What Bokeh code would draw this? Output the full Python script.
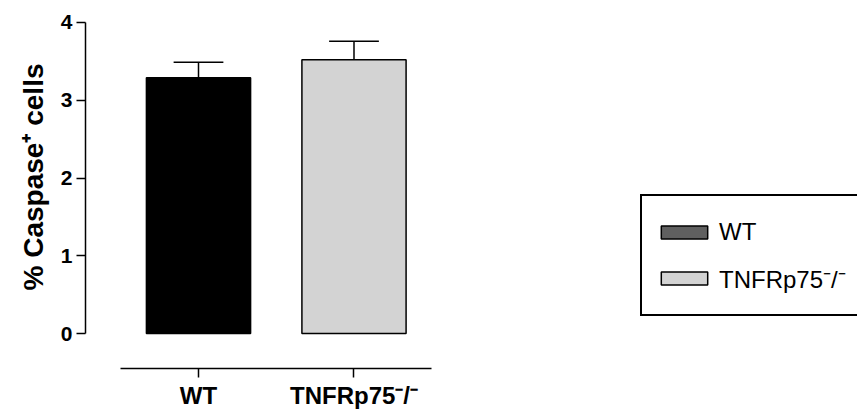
from bokeh.plotting import figure
from bokeh.models import Range1d, Legend, LegendItem, FixedTicker, Title
from bokeh.embed import file_html
from bokeh.resources import INLINE

# ---- data ----
groups = ["WT", "TNFRp75⁻/⁻"]
means = [3.29, 3.52]
sems = [0.20, 0.24]
bar_colors = ["#000000", "#d3d3d3"]
legend_colors = ["#606060", "#d3d3d3"]
y_ticks = [0, 1, 2, 3, 4]
y_title = "% Caspase⁺ cells"

xs = [1, 2]
tops = [m + s for m, s in zip(means, sems)]
cap = 0.16

p = figure(width=857, height=412, output_backend="svg", toolbar_location=None,
           x_range=Range1d(0.2733, 5.238), y_range=Range1d(-0.45, 4.09),
           min_border_left=85, min_border_top=15, min_border_bottom=44,
           min_border_right=0)
p.outline_line_color = None
p.xgrid.visible = False
p.ygrid.visible = False
p.background_fill_color = "white"
p.border_fill_color = "white"

p.vbar(x=xs, top=means, bottom=0, width=0.67, fill_color=bar_colors,
       line_color="black", line_width=1.5)
p.segment(x0=xs, y0=means, x1=xs, y1=tops, line_color="black", line_width=1.5)
p.segment(x0=[x - cap for x in xs], y0=tops, x1=[x + cap for x in xs], y1=tops,
          line_color="black", line_width=1.5)

# legend swatches (hidden renderers, used only for the legend)
leg_items = []
for g, c in zip(groups, legend_colors):
    r = p.vbar(x=xs, top=means, width=0.5, fill_color=c, line_color="black", line_width=1.5)
    r.visible = False
    leg_items.append(LegendItem(label=g, renderers=[r]))

legend = Legend(items=leg_items, location=(555, 52))
legend.border_line_color = "black"
legend.border_line_alpha = 1
legend.border_line_width = 2
legend.background_fill_color = "white"
legend.background_fill_alpha = 1
legend.inactive_fill_alpha = 0
legend.padding = 13
legend.spacing = 0
legend.margin = 0
legend.glyph_width = 58
legend.glyph_height = 16
legend.label_height = 46
legend.label_standoff = 6
legend.label_text_font = "Liberation Sans"
legend.label_text_font_size = "24px"
legend.label_text_color = "black"
p.add_layout(legend, "center")

# y axis
ya = p.yaxis[0]
ya.bounds = (0, 4)
ya.ticker = FixedTicker(ticks=y_ticks)
ya.major_tick_out = 9
ya.major_tick_in = 0
ya.minor_tick_line_color = None
ya.axis_line_width = 1.5
ya.major_tick_line_width = 1.5
ya.axis_line_color = "black"
ya.major_tick_line_color = "black"
ya.major_label_text_font = "Liberation Sans"
ya.major_label_text_font_style = "bold"
ya.major_label_text_font_size = "21px"
ya.major_label_text_color = "black"
ya.major_label_standoff = 4

# y-axis title (centred on the 0-4 axis span, not the whole frame)
t = Title(text=y_title, align="right", offset=48,
          text_font="Liberation Sans", text_font_style="bold",
          text_font_size="28px", text_color="black", standoff=17)
p.add_layout(t, "left")

# x axis
xa = p.xaxis[0]
xa.bounds = (0.5, 2.5)
xa.ticker = FixedTicker(ticks=xs)
xa.major_label_overrides = {x: g for x, g in zip(xs, groups)}
xa.major_tick_out = 9
xa.major_tick_in = 0
xa.minor_tick_line_color = None
xa.axis_line_width = 1.5
xa.major_tick_line_width = 1.5
xa.axis_line_color = "black"
xa.major_tick_line_color = "black"
xa.major_label_text_font = "Liberation Sans"
xa.major_label_text_font_style = "bold"
xa.major_label_text_font_size = "24px"
xa.major_label_text_color = "black"
xa.major_label_standoff = 4

open("out.html", "w").write(file_html(p, INLINE))
